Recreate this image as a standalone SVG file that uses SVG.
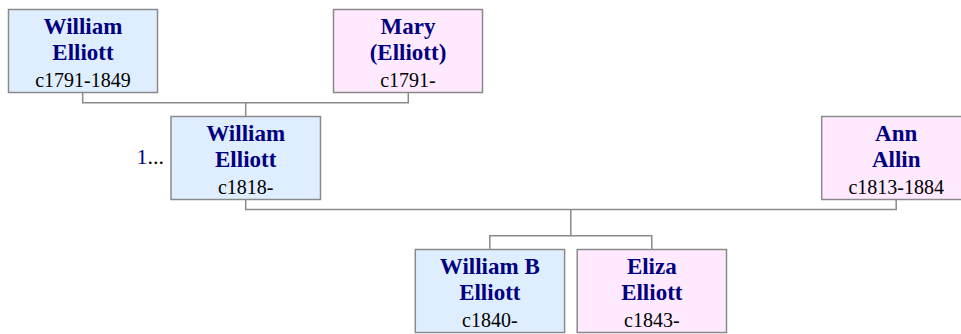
<svg xmlns="http://www.w3.org/2000/svg" width="961" height="334" viewBox="0 0 961 334">
<style>
.box{stroke:#8a8a8a;stroke-width:1.5}
.m{fill:#dfeeff}
.f{fill:#ffe9ff}
.n{font-family:'Liberation Serif','Times New Roman',Times,'DejaVu Serif',serif;font-weight:bold;font-size:23px;fill:#000080;text-anchor:middle}
.d{font-family:'Liberation Serif','Times New Roman',Times,'DejaVu Serif',serif;font-size:20px;fill:#000;text-anchor:middle}
.e{font-family:'Liberation Serif','Times New Roman',Times,'DejaVu Serif',serif;font-size:22px;text-anchor:end}
.c{fill:none;stroke:#8a8a8a;stroke-width:1.5}
</style>
<rect width="961" height="334" fill="#fff"/>
<g id="connectors">
<polyline class="c" points="82.7,92.5 82.7,102.7 408.3,102.7 408.3,92.5"/>
<line class="c" x1="245.7" y1="102.7" x2="245.7" y2="116"/>
<polyline class="c" points="245.7,199.5 245.7,209.5 896.2,209.5 896.2,199.5"/>
<line class="c" x1="570.8" y1="209.5" x2="570.8" y2="235.7"/>
<polyline class="c" points="489.8,249.3 489.8,235.7 651.8,235.7 651.8,249.3"/>
</g>
<g id="n1">
<rect class="box m" x="8.5" y="9.5" width="149" height="83"/>
<text class="n" x="83" y="34">William</text>
<text class="n" x="83" y="60">Elliott</text>
<text class="d" x="83" y="87.3">c1791-1849</text>
</g>
<g id="n2">
<rect class="box f" x="333.5" y="9.5" width="149" height="83"/>
<text class="n" x="408" y="34">Mary</text>
<text class="n" x="408" y="60">(Elliott)</text>
<text class="d" x="408" y="87.3">c1791-</text>
</g>
<g id="n3">
<rect class="box m" x="171" y="116.5" width="149.5" height="83"/>
<text class="n" x="245.7" y="140.5">William</text>
<text class="n" x="245.7" y="166.5">Elliott</text>
<text class="d" x="245.7" y="193.5">c1818-</text>
<text class="e" x="164" y="164"><tspan fill="#000080">1</tspan><tspan fill="#000">...</tspan></text>
</g>
<g id="n4">
<rect class="box f" x="821.7" y="116.5" width="149" height="83"/>
<text class="n" x="896.2" y="140.5">Ann</text>
<text class="n" x="896.2" y="166.5">Allin</text>
<text class="d" x="896.2" y="193.5">c1813-1884</text>
</g>
<g id="n5">
<rect class="box m" x="415.3" y="249.5" width="149.3" height="83"/>
<text class="n" x="489.8" y="273.5">William B</text>
<text class="n" x="489.8" y="299.5">Elliott</text>
<text class="d" x="489.8" y="327">c1840-</text>
</g>
<g id="n6">
<rect class="box f" x="577.2" y="249.5" width="149.3" height="83"/>
<text class="n" x="651.8" y="273.5">Eliza</text>
<text class="n" x="651.8" y="299.5">Elliott</text>
<text class="d" x="651.8" y="327">c1843-</text>
</g>
</svg>
